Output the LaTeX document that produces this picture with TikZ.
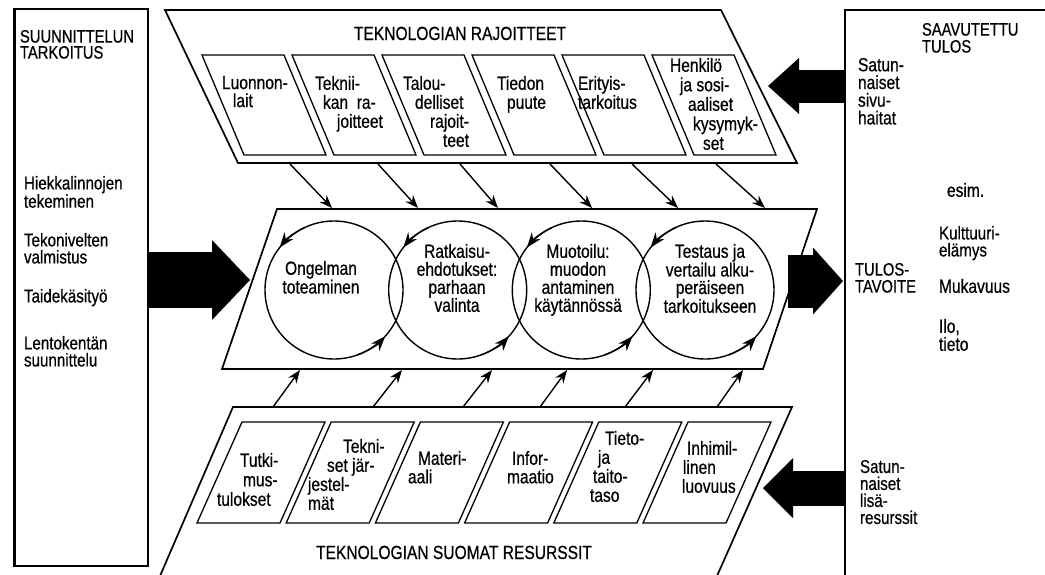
\documentclass[tikz,border=0pt]{standalone}
\usepackage{fontspec}
\setmainfont[FakeStretch=0.82,FakeBold=0.6]{Liberation Sans}
\usetikzlibrary{arrows.meta}
\begin{document}
\begin{tikzpicture}[x=1pt,y=-1pt,
  outline/.style={line width=1.7pt, line join=miter},
  innerbox/.style={line width=1.3pt},
  txt/.style={inner sep=0pt, outer sep=0pt, align=left, anchor=north west, font=\fontsize{19}{19}\selectfont},
  ctxt/.style={inner sep=0pt, outer sep=0pt, align=center, anchor=north, font=\fontsize{19}{18}\selectfont},
  title/.style={inner sep=0pt, anchor=base, font=\fontsize{19}{19}\selectfont},
  ring/.style={circle, draw, line width=1.4pt, minimum size=138pt, inner sep=0pt, outer sep=0pt},
  sarr/.style={line width=1.4pt, -{Stealth[length=13pt,width=10pt]}},
  carr/.style={line width=1.4pt, -{Stealth[length=15pt,width=11pt]}},
  bigarr/.style n args={3}{line width=#1pt, -{Triangle[length=#2pt,width=#3pt,line width=0pt]}}
]
\useasboundingbox (0,0) rectangle (1045,574);

% side panels
\node[draw, line width=1.8pt, minimum width=133pt, minimum height=557pt, anchor=north west, inner sep=0pt] (lp) at (14,8) {};
\draw[line width=3pt] (lp.north west) -- (lp.south west);
\coordinate (rpt) at (845,10);
\draw[outline] (1046,10) -- (rpt) -- (845,576);

% top parallelogram
\draw[outline] (165,10) -- (721,10) -- (797,163) -- (238,163) -- cycle;
\foreach \i in {0,...,5}{
  \draw[innerbox] ({202+90*\i},55) -- ({284+90*\i},55) -- ({326+90*\i},155) -- ({244+90*\i},155) -- cycle;
}
\node[title] (tt) at (460,40) {TEKNOLOGIAN RAJOITTEET};
\node[txt, font=\fontsize{19}{18}\selectfont] (tb1) at (222,76) {Luonnon-\\\hspace*{11pt}lait};
\node[txt] (tb2) at (315,76) {Teknii-\\\hspace*{8pt}kan\ \ ra-\\\hspace*{22pt}joitteet};
\node[txt] (tb3) at (403,76) {Talou-\\\hspace*{12pt}delliset\\\hspace*{27pt}rajoit-\\\hspace*{40pt}teet};
\node[txt] (tb4) at (497,76) {Tiedon\\\hspace*{10pt}puute};
\node[txt] (tb5) at (578,76) {Erityis-\\tarkoitus};
\node[txt, font=\fontsize{19}{19.5}\selectfont] (tb6) at (670,58) {Henkilö\\\hspace*{10pt}ja sosi-\\\hspace*{18pt}aaliset\\\hspace*{23pt}kysymyk-\\\hspace*{33pt}set};

% middle parallelogram
\draw[outline] (277,209) -- (817,209) -- (763,369) -- (222,369) -- cycle;
\node[ring] (c1) at (334,290) {};
\node[ring] (c2) at (457.7,290) {};
\node[ring] (c3) at (581.3,290) {};
\node[ring] (c4) at (705,290) {};
\foreach \c in {c1,c2,c3,c4}{
  \draw[carr] (\c.115) arc[start angle=115, end angle=142, radius=69pt];
  \draw[carr] (\c.-70) arc[start angle=-70, end angle=-42, radius=69pt];
}
\node[ctxt, font=\fontsize{19}{17}\selectfont] (ct1) at (321,261) {Ongelman\\toteaminen};
\node[ctxt] (ct2) at (457,244) {Ratkaisu-\\ehdotukset:\\parhaan\\valinta};
\node[ctxt] (ct3) at (578,244) {Muotoilu:\\muodon\\antaminen\\käytännössä};
\node[ctxt, font=\fontsize{19}{17.5}\selectfont] (ct4) at (710,244) {Testaus ja\\vertailu alku-\\peräiseen\\tarkoitukseen};

% bottom parallelogram
\draw[outline] (160,576) -- (233,407) -- (792,407) -- (717,576);
\foreach \i in {0,...,5}{
  \draw[innerbox] ({242+89.2*\i},422) -- ({325+89.2*\i},422) -- ({280+89.2*\i},523) -- ({197+89.2*\i},523) -- cycle;
}
\node[title] (bt) at (454,559) {TEKNOLOGIAN SUOMAT RESURSSIT};
\node[txt, font=\fontsize{19}{19.5}\selectfont] (bb1) at (217,453) {\hspace*{23pt}Tutki-\\\hspace*{26pt}mus-\\tulokset};
\node[txt] (bb2) at (308,439) {\hspace*{35pt}Tekni-\\\hspace*{19pt}set jär-\\jestel-\\mät};
\node[txt, font=\fontsize{19}{18.5}\selectfont] (bb3) at (408,451) {\hspace*{10pt}Materi-\\aali};
\node[txt, font=\fontsize{19}{18.5}\selectfont] (bb4) at (507,451) {\hspace*{5pt}Infor-\\maatio};
\node[txt] (bb5) at (590,431) {\hspace*{15pt}Tieto-\\\hspace*{8pt}ja\\\hspace*{3pt}taito-\\taso};
\node[txt] (bb6) at (682,441) {\hspace*{5pt}Inhimil-\\\hspace*{1pt}linen\\luovuus};

% small arrows top -> middle
\foreach \a/\b [count=\k] in {290/332,378/418,460/498,550/592,632/678,716/765}{
  \coordinate (ts\k) at (\a,164);
  \coordinate (te\k) at (\b,208);
  \draw[sarr] (ts\k) -- (te\k);
}
% small arrows bottom -> middle
\foreach \a/\b [count=\k] in {273/300,373/402,463/492,540/567,625/653,717/743}{
  \coordinate (bs\k) at (\a,407);
  \coordinate (be\k) at (\b,370);
  \draw[sarr] (bs\k) -- (be\k);
}

% left panel texts
\node[txt, font=\fontsize{18}{16}\selectfont] (l0) at (20,30) {SUUNNITTELUN\\TARKOITUS};
\node[txt, font=\fontsize{18.5}{17}\selectfont] (l1) at (24,176) {Hiekkalinnojen\\tekeminen};
\node[txt, font=\fontsize{18.5}{17}\selectfont] (l2) at (24,233) {Tekonivelten\\valmistus};
\node[txt, font=\fontsize{18.5}{17}\selectfont] (l3) at (24,289) {Taidekäsityö};
\node[txt, font=\fontsize{18.5}{17}\selectfont] (l4) at (24,336) {Lentokentän\\suunnittelu};

% right panel texts
\node[txt, font=\fontsize{18}{17}\selectfont] (r0) at (922,23) {SAAVUTETTU\\TULOS};
\node[txt, font=\fontsize{19}{17.7}\selectfont] (r1) at (858,58) {Satun-\\naiset\\sivu-\\haitat};
\node[txt] (r2) at (947,183) {esim.};
\node[txt, font=\fontsize{18.5}{17}\selectfont] (r3) at (939,226) {Kulttuuri-\\elämys};
\node[txt] (r4) at (939,279) {Mukavuus};
\node[txt, font=\fontsize{19}{18}\selectfont] (r5) at (939,319) {Ilo,\\tieto};
\node[txt, font=\fontsize{18}{17}\selectfont] (r6) at (855,263) {TULOS-\\TAVOITE};
\node[txt, font=\fontsize{18.5}{17}\selectfont] (r7) at (860,460) {Satun-\\naiset\\lisä-\\resurssit};

% big black arrows
\coordinate (la) at (lp.east |- 0,280);
\coordinate (lt) at (250,280);
\draw[bigarr={56}{38}{80}] (la) -- (lt);
\coordinate (ma) at (788,281);
\coordinate (mt) at (843,281);
\draw[bigarr={53}{30}{67}] (ma) -- (mt);
\coordinate (ra) at (845,86);
\coordinate (rt) at (768,86);
\draw[bigarr={33}{31}{56}] (ra) -- (rt);
\coordinate (rb) at (845,488);
\coordinate (rbt) at (763,488);
\draw[bigarr={35}{30}{60}] (rb) -- (rbt);
\end{tikzpicture}
\end{document}
